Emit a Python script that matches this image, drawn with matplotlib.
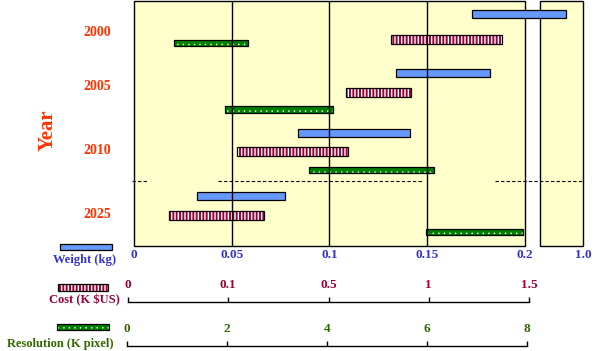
import numpy as np
import matplotlib
matplotlib.use('Agg')
import matplotlib.pyplot as plt
from matplotlib.patches import Rectangle

plt.rcParams['font.family'] = ['Liberation Serif', 'DejaVu Serif']
plt.rcParams['font.weight'] = 'bold'

# data
years = ['2000', '2005', '2010', '2025']
weight_lo = [0.173, 0.134, 0.084, 0.032]
weight_hi = [0.221, 0.182, 0.141, 0.077]
cost_lo = [0.815, 0.585, 0.12, 0.036]
cost_hi = [1.385, 0.915, 0.596, 0.231]
res_lo = [0.81, 1.86, 3.58, 5.98]
res_hi = [2.33, 4.08, 6.14, 7.96]

weight_ticks = [0, 0.05, 0.1, 0.15, 0.2]
weight_labels = ['0', '0.05', '0.1', '0.15', '0.2']
break_label = '1.0'
cost_ticks = [0, 0.1, 0.5, 1, 1.5]
cost_labels = ['0', '0.1', '0.5', '1', '1.5']
res_ticks = [0, 2, 4, 6, 8]
res_labels = ['0', '2', '4', '6', '8']

# colours
c_weight = '#6699FF'
c_cost = '#990033'
c_res = '#008000'
t_weight = '#3333CC'
t_res = '#336600'
t_year = '#FF3300'
bg = '#FFFFCC'

W, H = 599, 351
fig = plt.figure(figsize=(W / 100, H / 100), dpi=100)


def fbox(x0, y0, x1, y1):
    return [x0 / W, 1 - y1 / H, (x1 - x0) / W, (y1 - y0) / H]


# main axes (x in weight units, broken after 0.2)
x_end = 0.2297
gap_end = 0.2077
ax = fig.add_axes(fbox(134, 1, 583, 246))
ax.set_xlim(0, x_end)
ax.set_ylim(245, 0)
for s in ax.spines.values():
    s.set_visible(False)
ax.patch.set_visible(False)
tr = ax.get_xaxis_transform()
ax.add_patch(Rectangle((0, 0), 0.2, 1, transform=tr, facecolor=bg,
                       edgecolor='black', lw=1, zorder=0, clip_on=False))
ax.add_patch(Rectangle((gap_end, 0), x_end - gap_end, 1, transform=tr,
                       facecolor=bg, edgecolor='black', lw=1, zorder=0, clip_on=False))
for t in weight_ticks[1:-1]:
    ax.axvline(t, color='black', lw=1, zorder=4)

# row layout (y inside the plot, top = 0)
y_weight = [13.3, 71.8, 131.8, 195.3]
y_cost = [38.2, 91.3, 150.8, 214.7]
y_res = [41.8, 108.3, 168.8, 231]


def bars(lo, hi, ys, h, face, hatch=None, hcolor=None, hlw=1.0):
    lo = np.array(lo)
    hi = np.array(hi)
    plt.rcParams['hatch.linewidth'] = hlw
    if hatch:
        bb = ax.barh(ys, hi - lo, left=lo, height=h, color=face,
                     edgecolor=hcolor, linewidth=0, hatch=hatch, zorder=2)
        for p in bb:
            if hasattr(p, 'set_hatch_linewidth'):
                p.set_hatch_linewidth(hlw)
    ax.barh(ys, hi - lo, left=lo, height=h, color=face if not hatch else 'none',
            edgecolor='black', linewidth=0.9, zorder=3)


bars(weight_lo, weight_hi, y_weight, 8, c_weight)
bars(np.interp(cost_lo, cost_ticks, weight_ticks), np.interp(cost_hi, cost_ticks, weight_ticks),
     y_cost, 9, c_cost, '|||||', 'white', 1.0)
bars(np.interp(res_lo, res_ticks, weight_ticks), np.interp(res_hi, res_ticks, weight_ticks),
     y_res, 6.5, c_res, '...', 'white', 0.3)

# dashed separator between 2010 and 2025
ax.hlines([179.5] * 3, [-0.001, 0.043, 0.1847], [0.0066, 0.148, 0.2302],
          colors='black', linestyles=(0, (3, 2)), lw=0.8, clip_on=False, zorder=5)

ax.set_xticks(weight_ticks + [x_end], labels=weight_labels + [break_label])
ax.tick_params(axis='x', length=0, pad=2.5, labelcolor=t_weight, labelsize=9.5)
ax.set_yticks([])

# cost and resolution scales
for box, labels, col in [((128, 291, 529, 302), cost_labels, c_cost),
                         ((127, 335, 527, 346), res_labels, t_res)]:
    a = fig.add_axes(fbox(*box))
    a.patch.set_visible(False)
    for k, s in a.spines.items():
        s.set_visible(k == 'bottom')
    a.spines['bottom'].set_linewidth(1)
    a.set_xlim(0, len(labels) - 1)
    a.set_xticks(range(len(labels)), labels=labels)
    a.set_yticks([])
    a.tick_params(axis='x', direction='in', length=3.6, width=1, bottom=True, top=False,
                  labelbottom=False, labeltop=True, pad=0, labelcolor=col, labelsize=9.5)

# year labels
for yr, py in zip(years, [32, 87, 151, 214]):
    fig.text(97 / W, 1 - py / H, yr, ha='center', va='center', color=t_year, fontsize=10)
fig.text(48 / W, 1 - 130 / H, 'Year', rotation=90, ha='center', va='center',
         color=t_year, fontsize=15)

# legend
def legend_bar(x0, y0, x1, y1, face, hatch=None, hcolor=None, hlw=1.0):
    plt.rcParams['hatch.linewidth'] = hlw
    if hatch:
        r = Rectangle((x0 / W, 1 - y1 / H), (x1 - x0) / W, (y1 - y0) / H,
                      transform=fig.transFigure, facecolor=face, edgecolor=hcolor,
                      lw=0, hatch=hatch)
        if hasattr(r, 'set_hatch_linewidth'):
            r.set_hatch_linewidth(hlw)
        fig.add_artist(r)
    fig.add_artist(Rectangle((x0 / W, 1 - y1 / H), (x1 - x0) / W, (y1 - y0) / H,
                             transform=fig.transFigure, facecolor=face if not hatch else 'none',
                             edgecolor='black', lw=0.9))


legend_bar(60, 244, 112, 250, c_weight)
legend_bar(58, 284, 108, 291, c_cost, '|||||', 'white', 1.0)
legend_bar(57, 324, 109, 330, c_res, '...', 'white', 0.3)
fig.text(85 / W, 1 - 259.5 / H, 'Weight (kg)', ha='center', va='center', color=t_weight, fontsize=9)
fig.text(84 / W, 1 - 300.5 / H, 'Cost (K $US)', ha='center', va='center', color=c_cost, fontsize=9)
fig.text(60 / W, 1 - 344 / H, 'Resolution (K pixel)', ha='center', va='center', color=t_res, fontsize=9)

fig.savefig('out.png', dpi=100)
